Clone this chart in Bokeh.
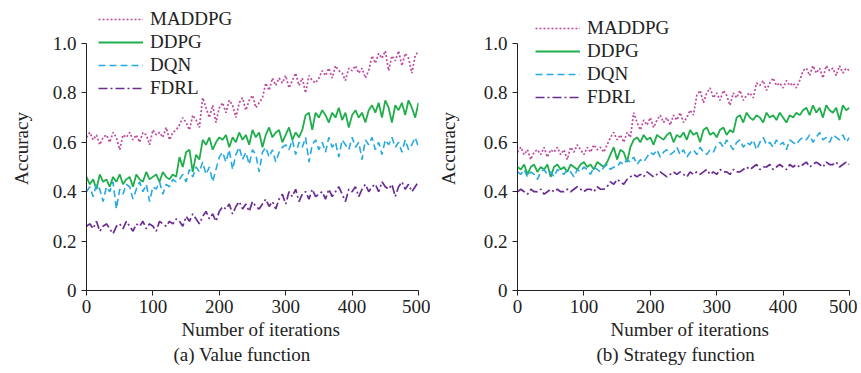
from bokeh.plotting import figure
from bokeh.models import Legend, LegendItem, FixedTicker, Title, Range1d
from bokeh.layouts import row
from bokeh.embed import file_html
from bokeh.resources import INLINE

iterations = list(range(0, 501, 5))

# (a) Value function, accuracy in percent
a_maddpg = [62,64,61,63,59,62,63,60,64,62,57,63,62,64,61,63,60,64,63,59,65,63,64,62,66,61,64,65,
            67,70,68,65,71,69,66,78,74,70,75,68,
            74,76,72,77,75,70,76,78,73,77,79,74,76,
            78,84,81,86,83,
            86,84,87,82,85,88,83,86,80,87,85,84,86,
            89,87,90,86,91,89,88,85,90,89,91,88,90,86,89,
            95,92,96,94,97,89,95,93,97,91,96,94,88,95,97]
a_ddpg = [46,43,45,41,47,44,45,42,46,44,47,43,45,46,42,47,45,44,48,45,46,47,44,48,46,45,47,46,
          54,50,56,57,48,55,53,
          61,59,62,57,60,62,61,63,58,62,60,64,61,63,59,65,62,64,58,63,66,62,64,65,60,63,66,61,64,62,65,
          71,72,65,72,70,73,71,68,72,70,74,69,72,66,71,73,70,72,68,73,
          75,72,76,70,77,74,68,75,73,76,71,77,74,70,76]
a_dqn = [40,42,38,43,41,36,42,40,44,33,41,39,43,42,37,41,44,40,43,36,42,41,44,39,43,42,45,44,
         45,47,44,49,46,50,48,52,47,50,44,49,
         54,56,52,57,49,55,58,53,56,51,57,55,48,56,58,54,57,52,56,58,
         59,57,61,55,60,58,62,52,59,61,57,60,56,62,58,60,54,61,59,57,62,58,60,53,61,59,62,57,60,55,
         61,59,62,58,60,56,61,57,59,62,58]
a_fdrl = [26,27,25,28,24,26,27,25,23,26,27,25,28,26,24,27,26,28,25,27,26,24,28,27,26,28,
          27,29,28,26,30,28,31,29,27,30,32,29,31,28,
          32,34,33,35,31,34,36,33,35,32,36,34,33,35,37,34,36,33,
          37,39,35,40,38,41,36,39,40,37,41,38,
          39,40,37,41,38,40,42,39,36,41,40,42,38,41,43,40,
          42,43,40,44,42,41,43,38,42,44,41,43,40,42,44]

# (b) Strategy function, accuracy in percent
b_maddpg = [56,58,55,57,53,56,57,55,58,54,57,56,58,55,57,53,58,56,59,57,55,58,56,59,57,58,56,59,
            62,64,61,63,60,64,62,
            72,68,65,69,67,70,66,69,71,68,70,67,71,69,72,68,70,73,71,
            79,81,76,80,82,78,80,77,81,79,75,80,78,81,77,79,80,78,
            84,83,85,81,84,86,83,84,82,85,83,84,82,85,
            89,90,87,91,88,90,86,91,89,90,87,91,88,90,89]
b_ddpg = [50,49,51,47,50,51,48,50,49,51,46,50,51,49,50,48,51,50,49,51,52,50,51,49,52,51,50,52,
          55,58,53,57,56,52,58,
          61,62,60,63,61,62,59,63,62,61,63,64,60,63,62,64,61,65,63,64,60,65,66,63,64,62,65,66,63,65,64,
          70,71,68,72,70,69,71,70,68,72,70,71,69,72,70,68,71,70,72,71,
          73,74,71,75,72,74,70,75,73,72,74,69,75,73,74]
b_dqn = [48,47,49,46,48,47,45,48,49,47,48,46,49,48,47,49,48,46,49,48,50,49,47,50,49,48,50,51,49,50,
         50,52,51,53,52,54,51,53,52,54,
         56,55,57,54,56,57,55,56,58,55,57,54,56,57,55,58,56,55,57,56,
         59,60,58,61,59,57,60,61,58,60,59,61,57,60,62,59,60,58,61,59,60,57,61,60,59,61,
         62,61,63,60,62,64,61,62,60,63,62,61,63,60,62]
b_fdrl = [40,41,40,39,41,40,40,41,39,40,41,40,41,40,40,41,40,41,42,41,40,41,41,40,42,41,41,42,
          44,43,45,44,43,45,
          46,47,46,47,46,48,47,46,47,48,47,46,47,48,47,48,47,46,48,47,48,47,48,49,47,48,47,49,48,48,47,49,48,48,
          49,50,49,50,51,49,50,50,51,49,50,51,50,49,51,50,51,50,
          51,52,50,51,52,51,50,52,51,51,52,50,51,52,51]

series_names = ["MADDPG", "DDPG", "DQN", "FDRL"]
y_ticks = [0, 0.2, 0.4, 0.6, 0.8, 1.0]
y_tick_labels = ["0", "0.2", "0.4", "0.6", "0.8", "1.0"]
x_ticks = [0, 100, 200, 300, 400, 500]
x_label = "Number of iterations"
y_label = "Accuracy"

colors = ["#BE4A9E", "#1FAE4B", "#27A9E1", "#6A2C91"]
dashes = ["2 2", "solid", "7 4", "9 3 2 3"]
widths = [1.7, 1.8, 1.6, 1.7]

FONT = "Liberation Serif"
FS = "19px"

FRAME_W = 332
FRAME_TOP = 6           # free room above the 1.0 tick for the legend
FRAME_H = 247 + 37      # 247 px per unit of accuracy, plus headroom
Y_END = FRAME_H / 247


def below_text(text, offset, standoff):
    return Title(text=text, align="left", offset=offset, text_font=FONT, text_font_size=FS,
                 text_font_style="normal", text_color="#222222", standoff=standoff)


def make_panel(data, caption, left_border, right_border, legend_xy, ylab_standoff,
               xlab_offset, cap_offset):
    p = figure(frame_width=FRAME_W, frame_height=FRAME_H, output_backend="svg",
               toolbar_location=None,
               x_range=Range1d(0, 500), y_range=Range1d(0, Y_END),
               min_border_left=left_border, min_border_right=right_border,
               min_border_top=FRAME_TOP, min_border_bottom=0)
    p.outline_line_color = None
    p.xgrid.visible = False
    p.ygrid.visible = False
    p.background_fill_color = None
    p.border_fill_color = None

    items = []
    for name, vals, c, d, w in zip(series_names, data, colors, dashes, widths):
        r = p.line(iterations, [v / 100 for v in vals], line_color=c, line_dash=d, line_width=w)
        items.append(LegendItem(label=name, renderers=[r]))

    leg = Legend(items=items, location=legend_xy, border_line_color=None,
                 background_fill_alpha=0, padding=0, margin=0, spacing=1,
                 glyph_width=45, glyph_height=20, label_height=20, label_standoff=7,
                 label_text_font=FONT, label_text_font_size=FS, label_text_color="#222222")
    p.add_layout(leg, "center")

    for ax in (p.xaxis[0], p.yaxis[0]):
        ax.axis_line_color = "#222222"
        ax.major_tick_line_color = "#222222"
        ax.minor_tick_line_color = None
        ax.major_tick_out = 5
        ax.major_tick_in = 0
        ax.major_label_text_font = FONT
        ax.major_label_text_font_size = FS
        ax.major_label_text_color = "#222222"
        ax.axis_label_text_font = FONT
        ax.axis_label_text_font_size = FS
        ax.axis_label_text_font_style = "normal"
        ax.axis_label_text_color = "#222222"

    p.yaxis.bounds = (0, 1.0)
    p.xaxis.ticker = FixedTicker(ticks=x_ticks)
    p.yaxis.ticker = FixedTicker(ticks=y_ticks)
    p.yaxis.major_label_overrides = {t: s for t, s in zip(y_ticks, y_tick_labels)}
    p.yaxis.axis_label = y_label
    p.xaxis.major_label_standoff = 4
    p.yaxis.major_label_standoff = 5
    p.yaxis.axis_label_standoff = ylab_standoff

    p.add_layout(below_text(x_label, xlab_offset, 2), "below")
    p.add_layout(below_text(caption, cap_offset, 2), "below")
    return p


# left panel: 86 + 332 + 12 = 430 wide; right panel frame starts at 430 + 87 = 517
pa = make_panel([a_maddpg, a_ddpg, a_dqn, a_fdrl], "(a) Value function", 86, 12, (12, 191), 18,
                95, 87)
pb = make_panel([b_maddpg, b_ddpg, b_dqn, b_fdrl], "(b) Strategy function", 87, 8, (18, 182), 22,
                93, 79)

layout = row(pa, pb, spacing=0)

with open("out.html", "w") as f:
    f.write(file_html(layout, INLINE))
